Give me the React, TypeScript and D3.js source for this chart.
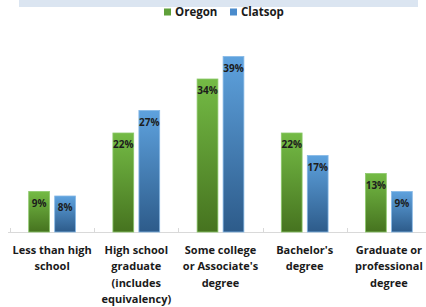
import { useEffect, useRef } from 'react';
import * as d3 from 'd3';

const categories = [
  ['Less than high', 'school'],
  ['High school', 'graduate', '(includes', 'equivalency)'],
  ['Some college', "or Associate's", 'degree'],
  ["Bachelor's", 'degree'],
  ['Graduate or', 'professional', 'degree'],
];
const oregon = [9, 22, 34, 22, 13];
const clatsop = [8, 27, 39, 17, 9];
const seriesNames = ['Oregon', 'Clatsop'];

const W = 426;
const H = 307;
const FONT = '"Open Sans", "DejaVu Sans", sans-serif';

export default function App() {
  const ref = useRef<SVGSVGElement | null>(null);

  useEffect(() => {
    if (!ref.current) return;
    const svg = d3.select(ref.current);
    svg.selectAll('*').remove();

    const baseline = 232;
    const x = d3.scaleBand<number>()
      .domain(d3.range(categories.length))
      .range([10, 431]);
    const inner = d3.scaleBand<string>()
      .domain(seriesNames)
      .range([0, x.bandwidth()])
      .paddingInner(0.2)
      .paddingOuter(0.72);
    const y = d3.scaleLinear().domain([0, 40]).range([baseline, 52]);

    const defs = svg.append('defs');
    const grads = [
      { id: 'gGreen', top: '#74bb45', bottom: '#46731f' },
      { id: 'gBlue', top: '#5ea2de', bottom: '#2d5b8a' },
    ];
    grads.forEach(g => {
      const lg = defs.append('linearGradient')
        .attr('id', g.id).attr('x1', 0).attr('y1', 0).attr('x2', 0).attr('y2', 1);
      lg.append('stop').attr('offset', '0%').attr('stop-color', g.top);
      lg.append('stop').attr('offset', '100%').attr('stop-color', g.bottom);
    });

    // top band
    svg.append('rect')
      .attr('x', 19).attr('y', 0).attr('width', 399).attr('height', 7)
      .attr('fill', '#dbe5f1');

    // legend
    const legend = svg.append('g').attr('font-family', FONT).attr('font-weight', 'bold').attr('font-size', 11.5);
    const legendItems = [
      { name: seriesNames[0], fill: '#5fa03a', x: 164 },
      { name: seriesNames[1], fill: '#4a8bcc', x: 230 },
    ];
    legendItems.forEach(it => {
      legend.append('rect').attr('x', it.x).attr('y', 8.5).attr('width', 7).attr('height', 7).attr('fill', it.fill);
      legend.append('text').attr('x', it.x + 11).attr('y', 16).attr('fill', '#1a1a1a').text(it.name);
    });

    // axis
    svg.append('line')
      .attr('x1', 8).attr('x2', 433).attr('y1', baseline + 0.5).attr('y2', baseline + 0.5)
      .attr('stroke', '#d9d9d9');
    d3.range(categories.length + 1).forEach(i => {
      const tx = Math.round(i < categories.length ? (x(i) as number) : 431) + 0.5;
      svg.append('line')
        .attr('x1', tx).attr('x2', tx).attr('y1', baseline - 4).attr('y2', baseline + 1)
        .attr('stroke', '#d9d9d9');
    });

    const data = [oregon, clatsop];
    const groups = svg.append('g');
    data.forEach((vals, si) => {
      vals.forEach((v, ci) => {
        const bx = (x(ci) as number) + (inner(seriesNames[si]) as number);
        const by = y(v);
        groups.append('rect')
          .attr('x', bx).attr('y', by)
          .attr('width', inner.bandwidth()).attr('height', baseline - by)
          .attr('fill', `url(#${grads[si].id})`)
          .attr('stroke', si === 0 ? '#8cc86a' : '#86b8e6')
          .attr('stroke-width', 0.8);
        groups.append('text')
          .attr('x', bx + inner.bandwidth() / 2).attr('y', by + 15)
          .attr('text-anchor', 'middle')
          .attr('font-family', FONT).attr('font-weight', 'bold').attr('font-size', 10)
          .attr('fill', '#1c1c1c')
          .text(`${v}%`);
      });
    });

    // category labels
    const labels = svg.append('g').attr('font-family', FONT).attr('font-weight', 'bold').attr('font-size', 11).attr('fill', '#1a1a1a');
    categories.forEach((lines, ci) => {
      const cx = (x(ci) as number) + x.bandwidth() / 2;
      const t = labels.append('text').attr('text-anchor', 'middle');
      lines.forEach((ln, li) => {
        t.append('tspan').attr('x', cx).attr('y', 254 + li * 16.3).text(ln);
      });
    });
  }, []);

  return (
    <div style={{ position: 'fixed', left: 0, top: 0 }}>
      <svg ref={ref} width={W} height={H} style={{ display: 'block', background: '#fff' }} />
    </div>
  );
}
